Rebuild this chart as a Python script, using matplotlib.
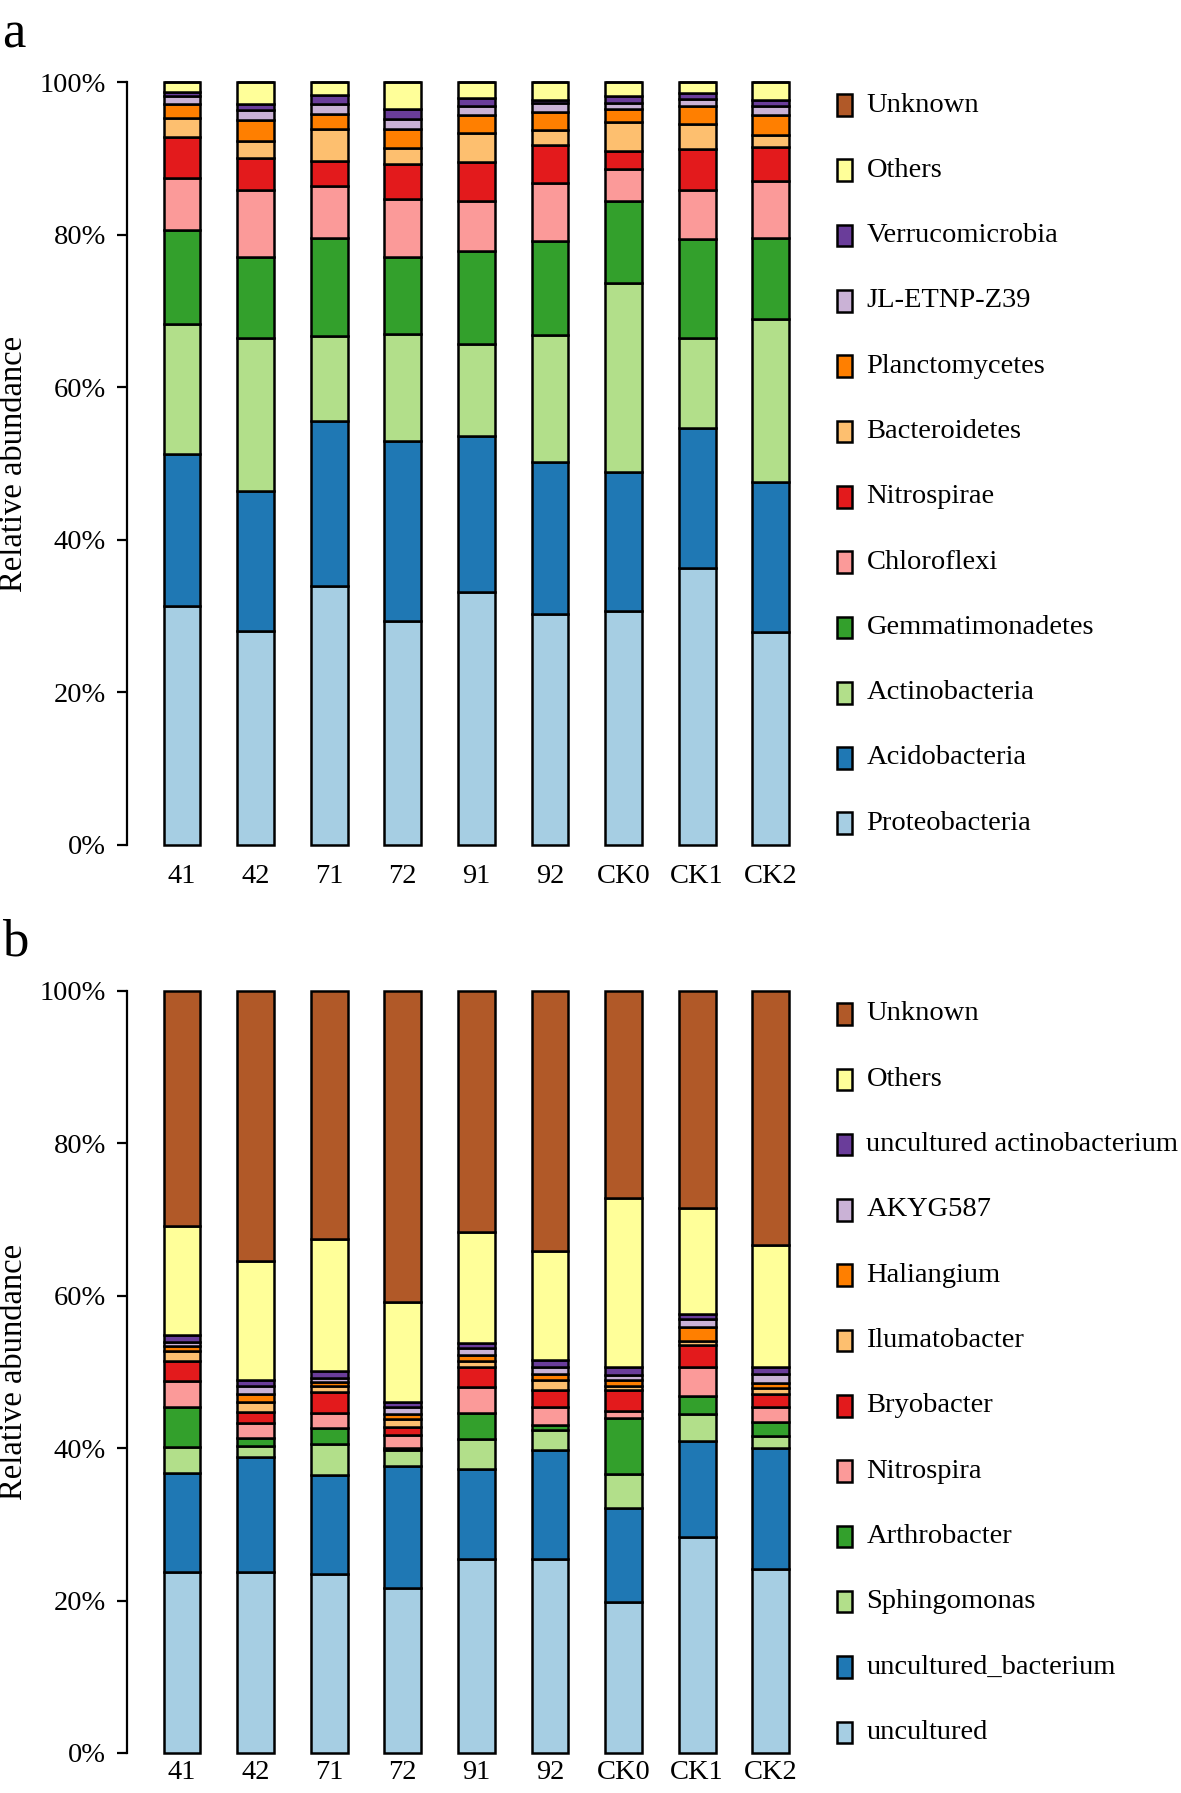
import matplotlib
matplotlib.use("Agg")
import matplotlib.pyplot as plt
from matplotlib.patches import Rectangle
import numpy as np

plt.rcParams['font.family'] = ['Liberation Serif', 'DejaVu Serif']

samples = ["41", "42", "71", "72", "91", "92", "CK0", "CK1", "CK2"]

# ---- Panel a: phylum level (%) ----
a_proteobacteria   = [31.3, 28.0, 34.0, 29.4, 33.1, 30.3, 30.7, 36.3, 27.9]
a_acidobacteria    = [19.9, 18.4, 21.6, 23.5, 20.5, 19.9, 18.2, 18.4, 19.7]
a_actinobacteria   = [17.1, 20.0, 11.1, 14.1, 12.1, 16.6, 24.8, 11.7, 21.4]
a_gemmatimonadetes = [12.3, 10.7, 12.8, 10.0, 12.1, 12.3, 10.7, 13.0, 10.5]
a_chloroflexi      = [6.8, 8.7, 6.9, 7.7, 6.6, 7.7, 4.2, 6.4, 7.5]
a_nitrospirae      = [5.4, 4.3, 3.3, 4.6, 5.1, 4.9, 2.4, 5.4, 4.5]
a_bacteroidetes    = [2.5, 2.2, 4.2, 2.1, 3.8, 2.0, 3.7, 3.3, 1.6]
a_planctomycetes   = [1.8, 2.7, 1.9, 2.5, 2.4, 2.4, 1.8, 2.4, 2.6]
a_jl_etnp_z39      = [1.0, 1.3, 1.3, 1.2, 1.1, 1.2, 0.8, 0.9, 1.1]
a_verrucomicrobia  = [0.6, 0.8, 1.2, 1.4, 1.1, 0.4, 0.8, 0.8, 0.9]
a_others           = [1.3, 2.9, 1.7, 3.5, 2.1, 2.3, 1.9, 1.4, 2.3]
a_unknown          = [0, 0, 0, 0, 0, 0, 0, 0, 0]

a_labels = ["Proteobacteria", "Acidobacteria", "Actinobacteria", "Gemmatimonadetes",
            "Chloroflexi", "Nitrospirae", "Bacteroidetes", "Planctomycetes",
            "JL-ETNP-Z39", "Verrucomicrobia", "Others", "Unknown"]

# ---- Panel b: genus level (%) ----
b_uncultured        = [23.7, 23.7, 23.5, 21.7, 25.5, 25.4, 19.8, 28.3, 24.1]
b_uncultured_bact   = [13.0, 15.1, 13.0, 16.0, 11.8, 14.4, 12.4, 12.6, 15.9]
b_sphingomonas      = [3.5, 1.5, 4.0, 2.0, 3.9, 2.6, 4.4, 3.6, 1.6]
b_arthrobacter      = [5.2, 1.1, 2.1, 0.3, 3.4, 0.7, 7.3, 2.4, 1.9]
b_nitrospira        = [3.4, 1.9, 2.0, 1.7, 3.4, 2.3, 1.0, 3.8, 1.9]
b_bryobacter        = [2.6, 1.4, 2.8, 1.1, 2.7, 2.2, 2.8, 2.8, 1.7]
b_ilumatobacter     = [1.3, 1.4, 0.8, 1.0, 0.7, 1.4, 0.5, 0.6, 0.8]
b_haliangium        = [0.7, 1.0, 0.5, 0.7, 0.8, 0.7, 0.7, 1.8, 0.7]
b_akyg587           = [0.6, 1.0, 0.5, 0.9, 0.9, 0.9, 0.7, 1.0, 1.1]
b_unc_actino        = [0.9, 0.9, 0.9, 0.7, 0.7, 1.0, 1.0, 0.7, 1.0]
b_others            = [14.3, 15.6, 17.4, 13.1, 14.6, 14.3, 22.2, 13.9, 16.0]
b_unknown           = [30.8, 35.4, 32.5, 40.8, 31.6, 34.1, 27.2, 28.5, 33.3]

b_labels = ["uncultured", "uncultured_bacterium", "Sphingomonas", "Arthrobacter",
            "Nitrospira", "Bryobacter", "Ilumatobacter", "Haliangium",
            "AKYG587", "uncultured actinobacterium", "Others", "Unknown"]

colors = ["#A6CEE3", "#1F78B4", "#B2DF8A", "#33A02C", "#FB9A99", "#E31A1C",
          "#FDBF6F", "#FF7F00", "#CAB2D6", "#6A3D9A", "#FFFF99", "#B15928"]

a_series = [a_proteobacteria, a_acidobacteria, a_actinobacteria, a_gemmatimonadetes,
            a_chloroflexi, a_nitrospirae, a_bacteroidetes, a_planctomycetes,
            a_jl_etnp_z39, a_verrucomicrobia, a_others, a_unknown]
b_series = [b_uncultured, b_uncultured_bact, b_sphingomonas, b_arthrobacter,
            b_nitrospira, b_bryobacter, b_ilumatobacter, b_haliangium,
            b_akyg587, b_unc_actino, b_others, b_unknown]

W, H = 1181, 1793
fig = plt.figure(figsize=(W / 100, H / 100), dpi=100)

FS = 20.5


def px_box(left, right, top, bottom):
    return [left / W, 1 - bottom / H, (right - left) / W, (bottom - top) / H]


def draw_panel(top, bottom, series, labels, letter, letter_base, leg_top, xpad):
    ax = fig.add_axes(px_box(126.7, 826, top, bottom))
    x = np.arange(len(samples))
    base = np.zeros(len(samples))
    for vals, col in zip(series, colors):
        v = np.array(vals, dtype=float)
        ax.bar(x, v, 0.5, bottom=base, color=col, edgecolor="black",
               linewidth=1.8, clip_on=False)
        base = base + v
    ax.set_xlim(-0.75, 8.75)
    ax.set_ylim(0, 100)
    for s in ["top", "right", "bottom"]:
        ax.spines[s].set_visible(False)
    ax.spines["left"].set_linewidth(1.6)
    ax.set_yticks([0, 20, 40, 60, 80, 100])
    ax.set_yticklabels(["0%", "20%", "40%", "60%", "80%", "100%"], fontsize=FS)
    ax.tick_params(axis="y", length=7, width=1.6, pad=8)
    ax.set_xticks(x)
    ax.set_xticklabels(samples, fontsize=FS)
    ax.tick_params(axis="x", length=0, pad=xpad)
    fig.text(14 / W, 1 - (top + bottom) / 2 / H, "Relative abundance",
             rotation=90, ha="center", va="center", fontsize=23.5)
    fig.text(2 / W, 1 - letter_base / H, letter, ha="left", va="baseline",
             fontsize=38)
    # legend, drawn top to bottom (reverse stacking order)
    spacing = 65.3
    for i, idx in enumerate(range(len(labels) - 1, -1, -1)):
        yc = leg_top + i * spacing
        rect = Rectangle(((836.7) / W, 1 - (yc + 10.8) / H), 15.6 / W, 21.6 / H,
                         facecolor=colors[idx], edgecolor="black", linewidth=1.8,
                         transform=fig.transFigure)
        fig.add_artist(rect)
        fig.text(866.5 / W, 1 - yc / H, labels[idx], ha="left", va="center",
                 fontsize=FS)
    return ax


draw_panel(82, 845, a_series, a_labels, "a", 48, 105, 14)
draw_panel(991, 1753, b_series, b_labels, "b", 955, 1014, 5)

fig.savefig("out.png", dpi=100)
